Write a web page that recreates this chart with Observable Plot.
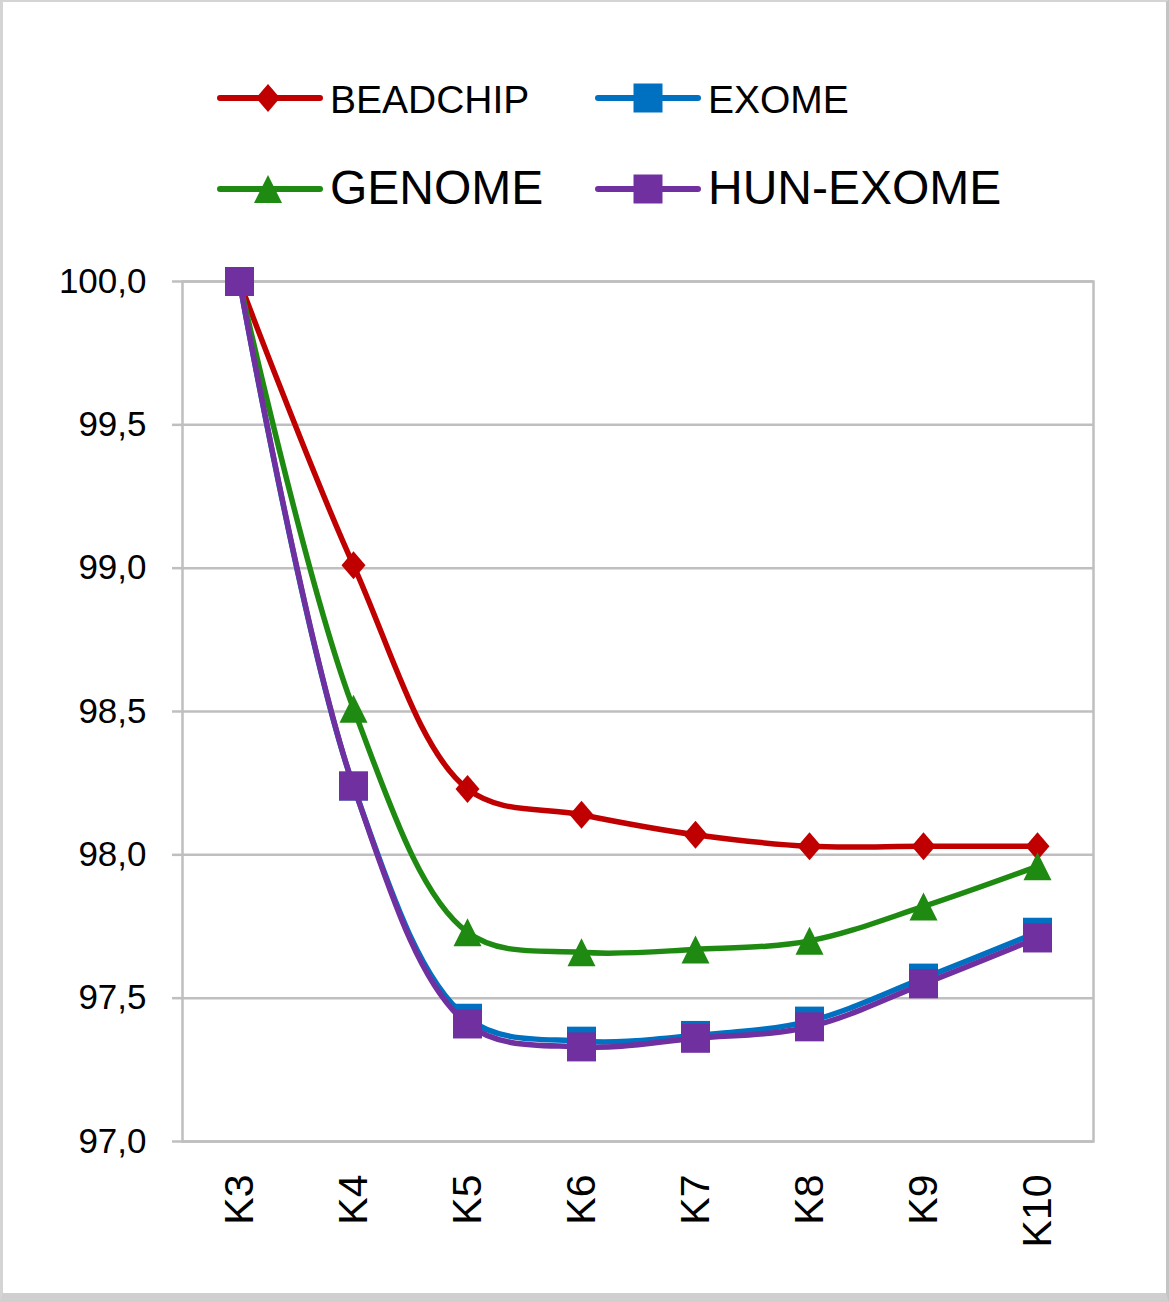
<!DOCTYPE html>
<html>
<head>
<meta charset="utf-8">
<script src="https://cdn.jsdelivr.net/npm/d3@7"></script>
<script src="https://cdn.jsdelivr.net/npm/@observablehq/plot@0.6"></script>
<style>
  html, body { margin: 0; padding: 0; background: #fff; }
  #wrap { position: relative; width: 1169px; height: 1302px; overflow: hidden; background: #fff; font-family: "Liberation Sans", Arial, sans-serif; }
  #legend { position: absolute; left: 0; top: 0; }
  #chart { position: absolute; left: 0; top: 235px; }
  #border { position: absolute; left: 0; top: 0; width: 1163px; height: 1291px; border-left: 3px solid #d4d4d4; border-top: 2px solid #d4d4d4; border-right: 3px solid #c4c4c4; border-bottom: 9px solid #cfcfcf; pointer-events: none; }
</style>
</head>
<body>
<div id="wrap">
  <div id="legend"></div>
  <div id="chart"></div>
  <div id="border"></div>
</div>
<script>
// ---- data ----
const categories = ["K3", "K4", "K5", "K6", "K7", "K8", "K9", "K10"];
const beadchip  = [100, 99.01, 98.23, 98.14, 98.07, 98.03, 98.03, 98.03];
const exome     = [100, 98.24, 97.43, 97.35, 97.37, 97.42, 97.57, 97.73];
const genome    = [100, 98.51, 97.73, 97.66, 97.67, 97.70, 97.82, 97.96];
const hunExome  = [100, 98.24, 97.41, 97.33, 97.36, 97.40, 97.55, 97.71];
const seriesNames = ["BEADCHIP", "EXOME", "GENOME", "HUN-EXOME"];
const yTicks = [97.0, 97.5, 98.0, 98.5, 99.0, 99.5, 100.0];

const colors = {"BEADCHIP": "#C00000", "EXOME": "#0070C0", "GENOME": "#1F8A11", "HUN-EXOME": "#7030A0"};
const valuesBy = {"BEADCHIP": beadchip, "EXOME": exome, "GENOME": genome, "HUN-EXOME": hunExome};

// custom Excel-like marker shapes (fixed pixel dimensions)
const diamondSym = {draw(ctx) { const w = 12, h = 14; ctx.moveTo(0, -h); ctx.lineTo(w, 0); ctx.lineTo(0, h); ctx.lineTo(-w, 0); ctx.closePath(); }};
const triangleSym = {draw(ctx) { const w = 14, h = 14; ctx.moveTo(0, -h); ctx.lineTo(w, h); ctx.lineTo(-w, h); ctx.closePath(); }};
const squareSym = {draw(ctx) { const s = 14.5; ctx.rect(-s, -s, 2 * s, 2 * s); }};
const symbols = {"BEADCHIP": diamondSym, "EXOME": squareSym, "GENOME": triangleSym, "HUN-EXOME": squareSym};

const rows = seriesNames.map(name => categories.map((c, i) => ({series: name, cat: c, value: valuesBy[name][i]})));

const marks = [
  Plot.ruleY(yTicks, {stroke: "#bfbfbf", strokeWidth: 2.5}),
  Plot.frame({stroke: "#bfbfbf", strokeWidth: 2.5}),
  Plot.axisY(yTicks, {
    tickSize: 10, tickPadding: 26, stroke: "#bfbfbf", strokeWidth: 2.5,
    tickFormat: d => d.toFixed(1).replace(".", ","),
    fontSize: 35, fill: "#000", label: null
  }),
  Plot.axisX({
    tickSize: 0, tickPadding: 33, tickRotate: -90, fontSize: 41, fill: "#000", label: null
  })
];
rows.forEach(data => {
  const name = data[0].series;
  marks.push(Plot.line(data, {x: "cat", y: "value", stroke: colors[name], strokeWidth: 5.5, curve: "catmull-rom"}));
  marks.push(Plot.dot(data, {x: "cat", y: "value", fill: colors[name], stroke: "none", r: 10, symbol: symbols[name]}));
});

const chart = Plot.plot({
  width: 1169,
  height: 1067,
  marginTop: 46,
  marginBottom: 161,
  marginLeft: 182,
  marginRight: 76,
  style: {fontFamily: "'Liberation Sans', Arial, sans-serif", background: "transparent", color: "#000"},
  x: {type: "point", domain: categories, padding: 0.49},
  y: {domain: [97, 100]},
  marks
});
document.getElementById("chart").appendChild(chart);

// ---- legend ----
const legendItems = [
  {name: "BEADCHIP", x: 220, y: 98, fs: 39, base: 113},
  {name: "EXOME", x: 598, y: 98, fs: 39, base: 113},
  {name: "GENOME", x: 220, y: 189, fs: 48, base: 204},
  {name: "HUN-EXOME", x: 598, y: 189, fs: 48, base: 204}
];
const lsvg = d3.select("#legend").append("svg").attr("width", 1169).attr("height", 235);
legendItems.forEach(it => {
  const g = lsvg.append("g");
  g.append("line").attr("x1", it.x).attr("x2", it.x + 100).attr("y1", it.y).attr("y2", it.y)
    .attr("stroke", colors[it.name]).attr("stroke-width", 6).attr("stroke-linecap", "round");
  const p = d3.path();
  symbols[it.name].draw(p);
  const cx = it.name === "BEADCHIP" || it.name === "GENOME" ? it.x + 48 : it.x + 50;
  g.append("path").attr("d", p.toString()).attr("transform", `translate(${cx},${it.y})`).attr("fill", colors[it.name]);
  g.append("text").attr("x", it.x + 110).attr("y", it.base).attr("font-size", it.fs)
    .attr("font-family", "'Liberation Sans', Arial, sans-serif").attr("fill", "#000").text(it.name);
});
</script>
</body>
</html>
